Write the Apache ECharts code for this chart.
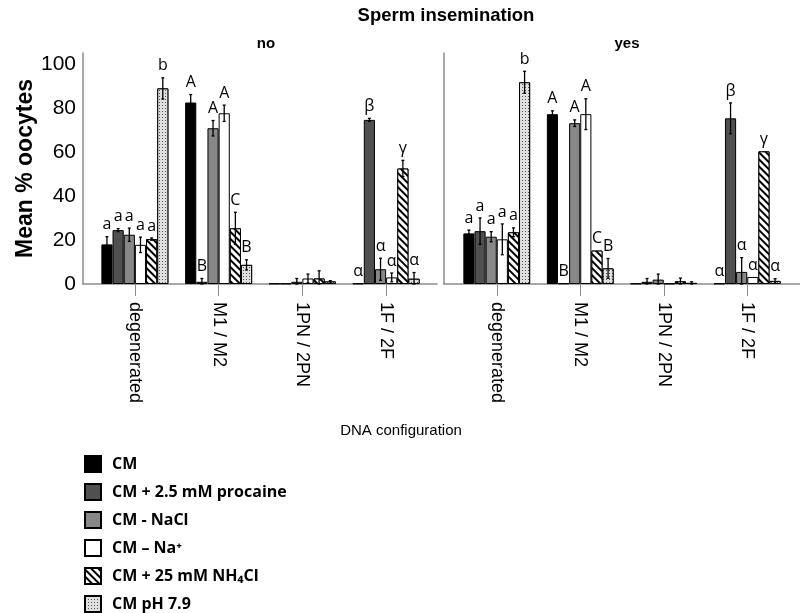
<!DOCTYPE html>
<html>
<head>
<meta charset="utf-8">
<script src="https://cdn.jsdelivr.net/npm/echarts@6/dist/echarts.min.js"></script>
<style>html,body{margin:0;padding:0;background:#fff}#c{width:800px;height:613px}</style>
</head>
<body>
<div id="c"></div>
<script>
const categories = ['degenerated', 'M1 / M2', '1PN / 2PN', '1F / 2F'];
const seriesNames = ['CM', 'CM + 2.5 mM procaine', 'CM - NaCl', 'CM \u2013 Na\u207A', 'CM + 25 mM NH\u2084Cl', 'CM pH 7.9'];
const yTicks = [0, 20, 40, 60, 80, 100];

// Panel "no" (rows = series, columns = categories)
const noMeans = [
  [18.0, 82.5, 0.2, 0.2],
  [24.5, 1.0, 0.2, 74.6],
  [22.4, 70.8, 1.0, 6.7],
  [17.8, 77.6, 2.5, 3.0],
  [20.4, 25.3, 2.5, 52.5],
  [88.9, 8.7, 1.2, 2.4]
];
const noErrors = [
  [3.5, 3.6, 0, 0],
  [0.7, 1.5, 0, 0.7],
  [3.0, 3.5, 1.5, 5.0],
  [3.5, 3.7, 2.0, 2.0],
  [0.5, 7.3, 3.5, 3.7],
  [4.8, 2.3, 0.3, 2.8]
];
// Panel "yes"
const yesMeans = [
  [23.0, 77.2, 0.2, 0.2],
  [24.0, 0.3, 1.0, 75.3],
  [21.5, 73.1, 2.0, 5.5],
  [20.3, 77.2, 0.2, 3.2],
  [23.5, 15.2, 1.2, 60.3],
  [91.7, 7.1, 0.5, 1.4]
];
const yesErrors = [
  [1.5, 1.5, 0, 0],
  [6.0, 0, 1.5, 7.0],
  [2.3, 1.5, 2.5, 6.5],
  [7.0, 7.0, 0, 0],
  [2.0, 0, 1.5, 0],
  [5.0, 4.5, 0.5, 1.0]
];
// significance letters (rows = series, columns = categories)
const letters = [
  ['a', 'A', '', '\u03B1'],
  ['a', 'B', '', '\u03B2'],
  ['a', 'A', '', '\u03B1'],
  ['a', 'A', '', '\u03B1'],
  ['a', 'C', '', '\u03B3'],
  ['b', 'B', '', '\u03B1']
];

const hatch = {
  symbol: 'rect', symbolSize: 1, color: '#000', backgroundColor: '#fff',
  dashArrayX: [1, 0], dashArrayY: [1.3, 3], rotation: Math.PI / 4
};
const dots = {
  symbol: 'rect', symbolSize: 1, color: '#555', backgroundColor: '#e0e0e0',
  dashArrayX: [[1, 2]], dashArrayY: [1, 2], rotation: 0
};
const styles = [
  { color: '#000000' },
  { color: '#505050' },
  { color: '#888888' },
  { color: '#ffffff' },
  { color: '#ffffff', decal: hatch },
  { color: '#e0e0e0', decal: dots }
];

const AX = '#8c8c8c';
const FONT = 'Liberation Sans, Arial, sans-serif';
const grids = [
  { left: 83, top: 53, width: 354, height: 231 },
  { left: 93, top: 53, width: 335, height: 231 },
  { left: 444, top: 53, width: 356, height: 231 },
  { left: 455, top: 53, width: 334, height: 231 }
];
function frameX(g) {
  return { gridIndex: g, type: 'value', min: 0, max: 1, axisLine: { show: true, lineStyle: { color: AX, width: 1.5 } },
    axisTick: { show: false }, axisLabel: { show: false }, splitLine: { show: false } };
}
function barX(g) {
  return { gridIndex: g, type: 'category', data: categories, axisLine: { show: false },
    axisTick: { show: true, alignWithLabel: true, length: 12, lineStyle: { color: AX } },
    axisLabel: { rotate: -90, margin: 18, color: '#000', fontFamily: FONT, fontSize: 18 } };
}
function yAx(g, opts) {
  return Object.assign({ gridIndex: g, type: 'value', min: 0, max: 105, interval: 20,
    splitLine: { show: false }, axisTick: { show: false } }, opts);
}

const series = [];
[[1, noMeans, noErrors], [3, yesMeans, yesErrors]].forEach(([gi, means, errs]) => {
  means.forEach((row, si) => {
    series.push({
      type: 'bar', name: seriesNames[si], xAxisIndex: gi, yAxisIndex: gi,
      data: row, barGap: '0%', barCategoryGap: '20%',
      itemStyle: Object.assign({ borderColor: '#000', borderWidth: 1 }, styles[si]),
      emphasis: { disabled: true }, z: 2
    });
  });
  const edata = [];
  means.forEach((row, si) => row.forEach((v, ci) => edata.push([ci, v, errs[si][ci], si])));
  series.push({
    type: 'custom', xAxisIndex: gi, yAxisIndex: gi, z: 5, silent: true,
    data: edata,
    renderItem: function (params, api) {
      const ci = api.value(0), v = api.value(1), e = api.value(2), si = api.value(3);
      const base = api.coord([ci, v]);
      const band = api.size([1, 0])[0];
      const bw = band * 0.8 / 6;
      const x = base[0] - band * 0.4 + (si + 0.5) * bw;
      const yTop = api.coord([ci, v + e])[1];
      const yBot = api.coord([ci, Math.max(0, v - e)])[1];
      const children = [];
      if (e > 0) {
        const ls = { stroke: '#000', lineWidth: 1.3 };
        children.push({ type: 'line', shape: { x1: x, y1: yTop, x2: x, y2: yBot }, style: ls });
        children.push({ type: 'line', shape: { x1: x - 1.5, y1: yTop, x2: x + 1.5, y2: yTop }, style: ls });
        children.push({ type: 'line', shape: { x1: x - 1.5, y1: yBot, x2: x + 1.5, y2: yBot }, style: ls });
      }
      const t = letters[si][ci];
      if (t) {
        children.push({ type: 'text', style: { x: x, y: yTop - 4, text: t, align: 'center', verticalAlign: 'bottom',
          fill: '#000', font: '16px "Open Sans", "Noto Sans", sans-serif' } });
      }
      return { type: 'group', children: children };
    }
  });
});

const chart = echarts.init(document.getElementById('c'));
chart.setOption({
  animation: false,
  backgroundColor: '#fff',
  title: [
    { text: 'Sperm insemination', left: 441, top: 1, textAlign: 'center',
      textStyle: { fontFamily: FONT, fontWeight: 'bold', fontSize: 18.5, color: '#000' } },
    { text: 'no', left: 261, top: 31, textAlign: 'center',
      textStyle: { fontFamily: FONT, fontWeight: 'bold', fontSize: 15, color: '#000' } },
    { text: 'yes', left: 622, top: 31, textAlign: 'center',
      textStyle: { fontFamily: FONT, fontWeight: 'bold', fontSize: 15, color: '#000' } },
    { text: 'DNA configuration', left: 396, top: 418, textAlign: 'center',
      textStyle: { fontFamily: FONT, fontWeight: 'normal', fontSize: 15, color: '#000' } }
  ],
  grid: grids,
  xAxis: [frameX(0), barX(1), frameX(2), barX(3)],
  yAxis: [
    yAx(0, { axisLine: { show: true, lineStyle: { color: AX, width: 1.5 } },
      axisLabel: { show: true, showMaxLabel: false, margin: 7, color: '#000', fontFamily: FONT, fontSize: 21,
        formatter: v => (yTicks.indexOf(v) >= 0 ? String(v) : '') },
      name: 'Mean % oocytes', nameLocation: 'middle', nameGap: 44,
      nameTextStyle: { fontFamily: FONT, fontWeight: 'bold', fontSize: 23, color: '#000' } }),
    yAx(1, { show: false }),
    yAx(2, { axisLine: { show: true, lineStyle: { color: AX, width: 1.5 } }, axisLabel: { show: false } }),
    yAx(3, { show: false })
  ],
  legend: {
    data: seriesNames, orient: 'vertical', left: 84, top: 455, height: 200, itemWidth: 16, itemHeight: 16, itemGap: 10,
    padding: 0, icon: 'rect', selectedMode: false,
    textStyle: { fontFamily: '"Open Sans", "Noto Sans", sans-serif', fontWeight: 'bold', fontSize: 16, lineHeight: 16,
      color: '#000', padding: [0, 0, 0, 6] }
  },
  series: series
});
</script>
</body>
</html>
